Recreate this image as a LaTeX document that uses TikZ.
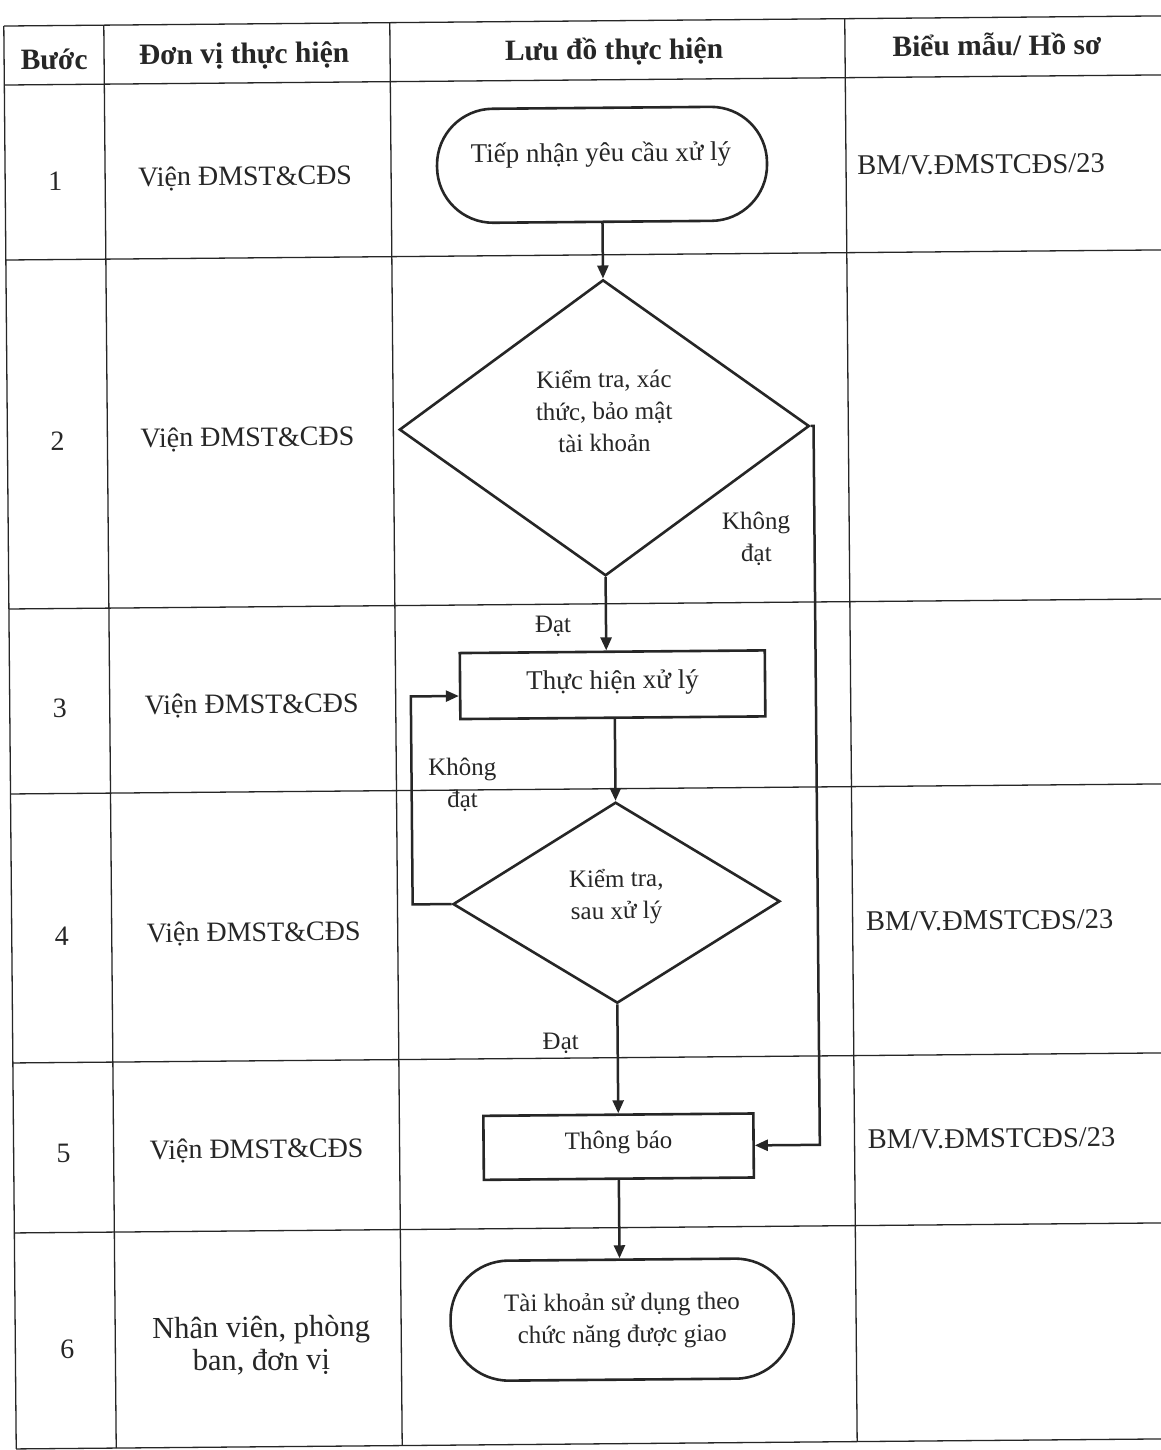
\documentclass[tikz,border=0pt]{standalone}
\usepackage{fontspec}
\setmainfont{Liberation Serif}
\usetikzlibrary{shapes.geometric,arrows.meta}
\definecolor{ink}{HTML}{262626}
\begin{document}
\begin{tikzpicture}[x=1pt,y=-1pt,
  tbl/.style={line width=1.3pt, draw=ink},
  shp/.style={draw=ink, line width=2.6pt, inner sep=0pt},
  term/.style={shp, rectangle, rounded corners=56pt},
  boxx/.style={shp, rectangle},
  dia/.style={shp, diamond},
  ft/.style={font=\fontsize{25}{32}\selectfont, align=center, text=ink, inner sep=0pt},
  ftb/.style={font=\fontsize{27}{32}\selectfont, align=center, text=ink, inner sep=0pt},
  lt/.style={font=\fontsize{28}{33}\selectfont, align=center, text=ink, inner sep=0pt},
  ltb/.style={font=\fontsize{30.5}{33}\selectfont, align=center, text=ink, inner sep=0pt},
  ht/.style={font=\fontsize{29.5}{33}\selectfont\bfseries, align=center, text=ink, inner sep=0pt},
  bt/.style={font=\fontsize{28.5}{32}\selectfont, align=center, text=ink, inner sep=0pt},
  arr/.style={draw=ink, line width=2.5pt, -{Triangle[length=13pt,width=11pt]}}]
\useasboundingbox (0,0) rectangle (1161,1450);
\fill[white] (0,0) rectangle (1161,1450);
\begin{scope}[rotate around={0.5:(580,735)}, transform shape]
% table
\draw[tbl] (10,21) -- (1180,21);
\draw[tbl] (10,80) -- (1180,80);
\draw[tbl] (10,255) -- (1180,255);
\draw[tbl] (10,604) -- (1180,604);
\draw[tbl] (10,789) -- (1180,789);
\draw[tbl] (10,1058) -- (1180,1058);
\draw[tbl] (10,1228) -- (1180,1228);
\draw[tbl] (10,1444) -- (1180,1444);
\draw[tbl] (10,21) -- (10,1444);
\draw[tbl] (110,21) -- (110,1444);
\draw[tbl] (396,21) -- (396,1444);
\draw[tbl] (851,21) -- (851,1444);
% header
\node[ht] (h1) at (60,55) {Bước};
\node[ht] (h2) at (250,53) {Đơn vị thực hiện};
\node[ht] (h3) at (620,52) {Lưu đồ thực hiện};
\node[ht] (h4) at (1003,48) {Biểu mẫu/ Hồ sơ};
% step numbers
\node[lt] (n1) at (60,177) {1};
\node[lt] (n2) at (60,437) {2};
\node[lt] (n3) at (60,704) {3};
\node[lt] (n4) at (60,932) {4};
\node[lt] (n5) at (60,1149) {5};
\node[lt] (n6) at (62,1345) {6};
% units
\node[lt] (u1) at (250,175) {Viện ĐMST\&CĐS};
\node[lt] (u2) at (250,436) {Viện ĐMST\&CĐS};
\node[lt] (u3) at (252,703) {Viện ĐMST\&CĐS};
\node[lt] (u4) at (252,931) {Viện ĐMST\&CĐS};
\node[lt] (u5) at (253,1148) {Viện ĐMST\&CĐS};
\node[ltb] (u6) at (256,1343) {Nhân viên, phòng\\ban, đơn vị};
% forms
\node[bt] (b1) at (986,168) {BM/V.ĐMSTCĐS/23};
\node[bt] (b4) at (988,924) {BM/V.ĐMSTCĐS/23};
\node[bt] (b5) at (988,1142) {BM/V.ĐMSTCĐS/23};
% flow shapes
\node[term, minimum width=330pt, minimum height=114pt] (t1) at (607,165) {};
\node[ftb] (t1t) at (606,155) {Tiếp nhận yêu cầu xử lý};
\node[dia, minimum width=410pt, minimum height=296pt] (d1) at (607,428) {};
\node[ft] (d1t) at (607,411) {Kiểm tra, xác\\thức, bảo mật\\tài khoản};
\node[boxx, minimum width=305pt, minimum height=66pt] (r3) at (613,685) {};
\node[ftb] (r3t) at (613,683) {Thực hiện xử lý};
\node[dia, minimum width=327pt, minimum height=201pt] (d2) at (615,903) {};
\node[ft] (d2t) at (615,897) {Kiểm tra,\\sau xử lý};
\node[boxx, minimum width=270pt, minimum height=64pt] (r5) at (615,1147) {};
\node[ft] (r5t) at (615,1143) {Thông báo};
\node[term, minimum width=343pt, minimum height=120pt, rounded corners=58pt] (t6) at (617,1320) {};
\node[ft] (t6t) at (617,1321) {Tài khoản sử dụng theo\\chức năng được giao};
% labels
\node[ft] (l1) at (554,626) {Đạt};
\node[ft] (l2) at (758,540) {Không\\đạt};
\node[ft] (l3) at (462,784) {Không\\đạt};
\node[ft] (l4) at (558,1043) {Đạt};
% connectors
\draw[arr] (t1.south) -- (d1.north);
\draw[arr] (d1.south) -- (d1.south |- r3.north);
\draw[arr] (r3.south -| d2.north) -- (d2.north);
\draw[arr] (d2.south) -- (r5.north);
\draw[arr] (r5.south) -- (r5.south |- t6.north);
\draw[arr] (d2.west) -- ++(-39,0) |- ([yshift=-10pt]r3.west);
\draw[arr] (d1.east) -- ++(3,0) |- (r5.east);
\end{scope}
\end{tikzpicture}
\end{document}
